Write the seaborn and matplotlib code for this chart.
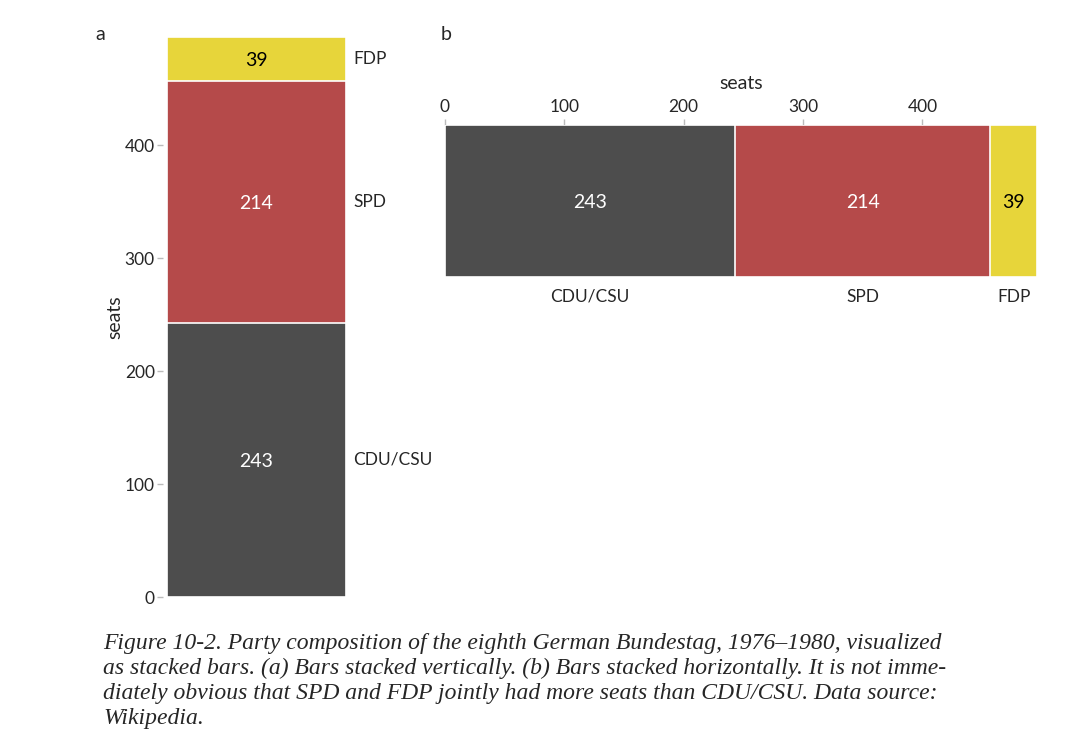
import matplotlib
matplotlib.use("Agg")
import matplotlib.pyplot as plt
import seaborn as sns
import numpy as np
import pandas as pd

# party composition, 8th Bundestag (1976-1980)
parties = ["CDU/CSU", "SPD", "FDP"]
seats = [243, 214, 39]
colors = ["#4d4d4d", "#b54a4a", "#e7d53a"]
text_colors = ["white", "white", "black"]

caption_lines = [
    "Figure 10-2. Party composition of the eighth German Bundestag, 1976\u20131980, visualized",
    "as stacked bars. (a) Bars stacked vertically. (b) Bars stacked horizontally. It is not imme-",
    "diately obvious that SPD and FDP jointly had more seats than CDU/CSU. Data source:",
    "Wikipedia.",
]

sns.set_style("white")
plt.rcParams["font.family"] = ["Lato", "DejaVu Sans"]

df = pd.DataFrame({"party": parties, "seats": seats, "color": colors, "tcolor": text_colors})
df["top"] = df["seats"].cumsum()
df["mid"] = df["top"] - df["seats"] / 2
total = df["seats"].sum()

W, H = 1092, 755
fig = plt.figure(figsize=(W / 100, H / 100), dpi=100)


def rect(x0, y0, x1, y1):
    # pixel box (top-left origin) -> figure fraction
    return [x0 / W, 1 - y1 / H, (x1 - x0) / W, (y1 - y0) / H]


tick_col = "#bbbbbb"

# ---- panel a: stacked vertically ----
ax1 = fig.add_axes(rect(167, 37, 346, 597))
# draw the cumulative totals, largest first, so the stack shows through
for _, row in df.iloc[::-1].iterrows():
    sns.barplot(x=["a"], y=[row["top"]], color=row["color"], width=1.0,
                edgecolor="white", linewidth=1.2, saturation=1, ax=ax1)
ax1.set_xlim(-0.5, 0.5)
ax1.set_ylim(0, total)
ax1.set_yticks([0, 100, 200, 300, 400])
ax1.set_xticks([])
ax1.set_xlabel("")
ax1.set_ylabel("seats", fontsize=14, labelpad=1)
for side in ["left", "right", "top", "bottom"]:
    ax1.spines[side].set_visible(False)
ax1.spines["left"].set_position(("outward", 3))
ax1.tick_params(axis="y", left=True, length=4.3, width=1, color=tick_col,
                labelsize=12.5, pad=1.5)
for _, row in df.iterrows():
    ax1.text(0, row["mid"], str(row["seats"]), ha="center", va="center_baseline",
             color=row["tcolor"], fontsize=14)
    ax1.text(0.54, row["mid"], row["party"], ha="left", va="center",
             fontsize=12.5, clip_on=False)
fig.text(95 / W, 1 - 35 / H, "a", fontsize=14, va="center")

# ---- panel b: stacked horizontally ----
ax2 = fig.add_axes(rect(445, 125, 1037, 277))
for _, row in df.iloc[::-1].iterrows():
    sns.barplot(y=["b"], x=[row["top"]], color=row["color"], width=1.0, orient="h",
                edgecolor="white", linewidth=1.2, saturation=1, ax=ax2)
ax2.set_ylim(0.5, -0.5)
ax2.set_xlim(0, total)
ax2.set_xticks([0, 100, 200, 300, 400])
ax2.set_yticks([])
ax2.set_ylabel("")
ax2.xaxis.tick_top()
ax2.xaxis.set_label_position("top")
ax2.set_xlabel("seats", fontsize=14, labelpad=7)
for side in ["left", "right", "top", "bottom"]:
    ax2.spines[side].set_visible(False)
ax2.spines["top"].set_position(("outward", 0))
ax2.tick_params(axis="x", top=True, bottom=False, length=4.3, width=1, color=tick_col,
                labelsize=12.5, pad=3)
for _, row in df.iterrows():
    ax2.text(row["mid"], 0, str(row["seats"]), ha="center", va="center_baseline",
             color=row["tcolor"], fontsize=14)
    ax2.text(row["mid"], 0.63, row["party"], ha="center", va="center",
             fontsize=12.5, clip_on=False)
fig.text(441 / W, 1 - 35 / H, "b", fontsize=14, va="center")

# ---- caption ----
for i, line in enumerate(caption_lines):
    fig.text(103 / W, 1 - (643 + 25.3 * i) / H, line, fontsize=17,
             family=["Liberation Serif", "DejaVu Serif"], style="italic",
             va="center", ha="left")

fig.savefig("out.png", dpi=100)
